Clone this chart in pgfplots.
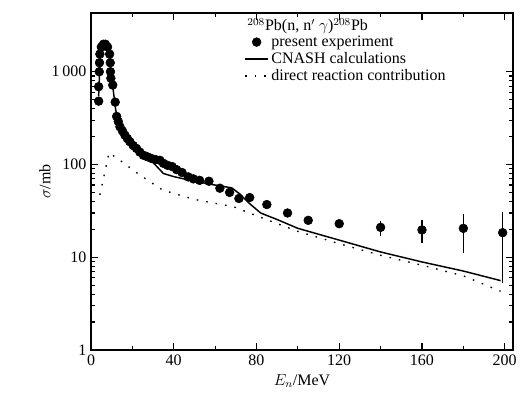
\documentclass[border=0pt]{standalone}
\usepackage{fontspec}
\setmainfont{Liberation Serif}
\usepackage{pgfplots}
\pgfplotsset{compat=1.18}

\begin{document}
\begin{tikzpicture}
\useasboundingbox (-68.25pt,-42pt) rectangle (329.25pt,262.5pt);
\begin{axis}[
    at={(0,0)}, anchor=south west,
    scale only axis,
    width=316.5pt, height=252.75pt,
    ymode=log,
    xmin=0, xmax=204, ymin=1, ymax=4300,
    xtick={0,40,80,120,160,200},
    minor xtick={20,60,100,140,180},
    ytick={1,10,100,1000},
    yticklabels={1,10,100,1\,000},
    tick align=inside,
    major tick length=5pt, minor tick length=3pt,
    axis line style={line width=1.3pt},
    every tick/.style={black, line width=0.9pt},
    font=\fontsize{12}{14}\selectfont,
    /pgf/number format/assume math mode=true,
    xlabel={$E_n$/MeV},
    ylabel={$\sigma$/mb},
    xlabel style={yshift=0pt},
    ylabel style={yshift=-6pt},
    legend style={draw=none, fill=none, at={(axis description cs:0.36,0.945)},
        anchor=north west, font=\fontsize{12}{13}\selectfont, row sep=-1pt,
        inner sep=1pt},
    legend cell align=left,
]
% present experiment
\addplot[black, only marks, mark=*, mark size=3.3pt,
    error bars/.cd, y dir=both, y explicit,
    error bar style={line width=1.1pt}, error mark=none] coordinates {
    (3.7,690) (3.7,482)
    (4.0,1000) (4.1,1250) (4.3,1550) (5,1850) (6,1980) (7,1980) (8,1850)
    (9,1550) (9.3,1250) (9.4,1000) (9.6,850)
    (10.5,718) (11.7,470) (12.4,330) (13.2,290) (14,255) (15.2,230)
    (16.4,207) (17.6,190) (18.8,176) (20.4,160) (22,149) (23.6,136)
    (25.3,126) (27.3,121) (29.3,116) (31.2,113) (33.3,111) (35,103)
    (37,98) (39.2,95) (41.4,88) (44,82) (47,73.5) (49.5,70) (52.5,67.5)
    (57,66) (62.3,55.5) (67,50) (71.5,43) (76.7,44) (85,37) (95,30)
    (105,25) (120,23)
    (140,21) += (0,3.3) -= (0,3.9)
    (160,19.7) += (0,5.6) -= (0,5.5)
    (180,20.5) += (0,8.5) -= (0,9.3)
    (199,18.4) += (0,12) -= (0,13.1)
};
% CNASH calculations
\addplot[black, line width=1.1pt] coordinates {
    (3.7,550) (4.3,1200) (5,1800) (6.5,2000) (8,1800) (9.3,1200) (10.5,700)
    (12,380) (14,260) (17,195) (20,160) (25,128) (30,105) (35,80) (40,74)
    (50,66) (60,60) (68,56) (72,48) (76,39) (82,30) (90,25.5) (100,20.5)
    (120,15.3) (140,11.4) (160,8.9) (180,7.1) (198,5.6)
};
% direct reaction contribution
\addplot[black, line width=1pt, dash pattern=on 1.2pt off 6pt] coordinates {
    (4.3,47) (8.7,134) (14.5,109) (22.9,79) (34.6,53) (50,42) (69,35)
    (80,28) (100,19) (120,14) (140,10.5) (160,8.2) (180,6.3) (198,4.3)
};
\legend{present experiment, CNASH calculations, direct reaction contribution}
\node[anchor=north west, font=\fontsize{12}{14}\selectfont, inner sep=0pt]
    at (axis description cs:0.37,0.985) {$^{208}$Pb(n, n$'$ $\gamma$)$^{208}$Pb};
\end{axis}
\end{tikzpicture}
\end{document}
